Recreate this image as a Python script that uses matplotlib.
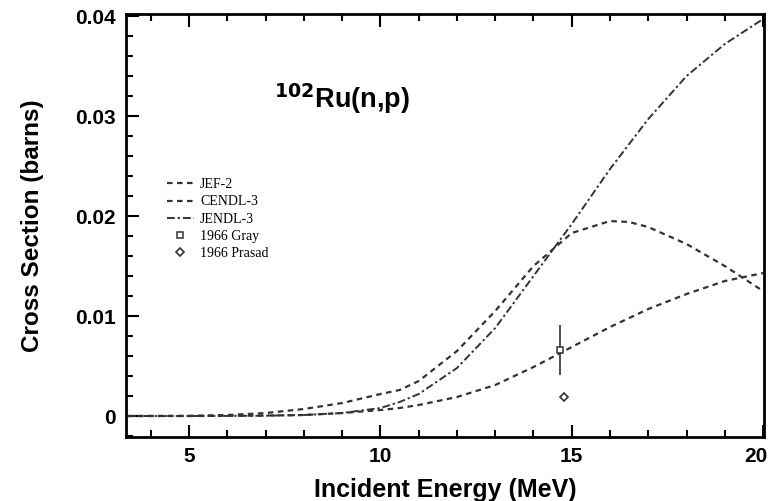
import numpy as np
import matplotlib
matplotlib.use('Agg')
import matplotlib.pyplot as plt
import matplotlib.transforms as mtransforms
from matplotlib.ticker import MultipleLocator

# evaluated cross sections (barns) vs incident energy (MeV)
energy = [3.4, 5, 6, 7, 8, 9, 10, 10.5, 11, 12, 13, 14, 15, 16, 16.5, 17, 18, 19, 20]
jef2 = [0, 0.00002, 0.0001, 0.0003, 0.0007, 0.0013, 0.0022, 0.0026, 0.0035, 0.0065,
        0.0105, 0.015, 0.0183, 0.0195, 0.0194, 0.0189, 0.0172, 0.015, 0.0125]
cendl3 = [0, 0, 0.00002, 0.00005, 0.0001, 0.0003, 0.0006, 0.0008, 0.0011, 0.0019,
          0.0031, 0.0049, 0.0069, 0.0089, 0.0098, 0.0107, 0.0122, 0.0135, 0.0143]
jendl3 = [0, 0, 0.00001, 0.00003, 0.0001, 0.0003, 0.0008, 0.0014, 0.0022, 0.0048,
          0.0088, 0.014, 0.0192, 0.0247, 0.0272, 0.0297, 0.034, 0.0372, 0.0397]

# measurements
gray_e, gray_xs, gray_err = [14.7], [0.0066], [0.0025]
prasad_e, prasad_xs = [14.8], [0.0019]

yticks = [0, 0.01, 0.02, 0.03, 0.04]
ytick_labels = ['0', '0.01', '0.02', '0.03', '0.04']
xticks = [5, 10, 15, 20]

plt.rcParams['font.family'] = ['Liberation Sans', 'DejaVu Sans']

fig = plt.figure(figsize=(7.7, 5.01), dpi=100)
ax = fig.add_axes([0.1636, 0.1277, 0.8284, 0.8443])

col = '#333333'
l1, = ax.plot(energy, jef2, color=col, lw=1.6, ls=(0, (2.5, 2.0)), label='JEF-2')
l2, = ax.plot(energy, cendl3, color=col, lw=1.6, ls=(0, (2.5, 2.0)), label='CENDL-3')
l3, = ax.plot(energy, jendl3, color=col, lw=1.4, ls=(0, (4, 1.5, 1.2, 1.5)), label='JENDL-3')
ax.errorbar(gray_e, gray_xs, yerr=gray_err, fmt='none', ecolor=col, elinewidth=1.2, capsize=0)
l4, = ax.plot(gray_e, gray_xs, 's', ms=4, mfc='white', mec=col, mew=1.1,
              ls='none', label='1966 Gray')
l5, = ax.plot(prasad_e, prasad_xs, 'D', ms=4, mfc='white', mec=col, mew=1.2,
              ls='none', label='1966 Prasad')

ax.set_xlim(3.35, 20.02)
ax.set_ylim(-0.0021, 0.0402)
ax.set_xticks(xticks)
ax.set_yticks(yticks)
ax.set_yticklabels(ytick_labels)
ax.xaxis.set_minor_locator(MultipleLocator(1))
ax.yaxis.set_minor_locator(MultipleLocator(0.002))
ax.tick_params(which='both', direction='in', top=True, right=False, width=1.5)
ax.tick_params(which='major', length=9, labelsize=15, pad=7)
ax.tick_params(which='minor', length=5)
for lab in ax.get_xticklabels() + ax.get_yticklabels():
    lab.set_fontweight('bold')
for s in ax.spines.values():
    s.set_linewidth(2)

# keep the last x label inside the figure
last = ax.get_xticklabels()[-1]
last.set_transform(last.get_transform() + mtransforms.ScaledTranslation(-7 / 100, 0, fig.dpi_scale_trans))

ax.set_xlabel('Incident Energy (MeV)', fontsize=18, fontweight='bold', labelpad=9)
ax.set_ylabel('Cross Section (barns)', fontsize=17.5, fontweight='bold', labelpad=23)

ax.text(0.339, 0.80, r'$^{\mathbf{102}}$Ru(n,p)', transform=ax.transAxes,
        fontsize=19.5, fontweight='bold', ha='center', va='center')

leg = ax.legend(handles=[l1, l2, l3, l4, l5], loc='upper left',
                bbox_to_anchor=(0.055, 0.625), frameon=False,
                prop={'family': 'Liberation Serif', 'size': 10},
                handlelength=2.0, handletextpad=0.4, labelspacing=0.3,
                borderaxespad=0)

fig.savefig('out.png', dpi=100)
